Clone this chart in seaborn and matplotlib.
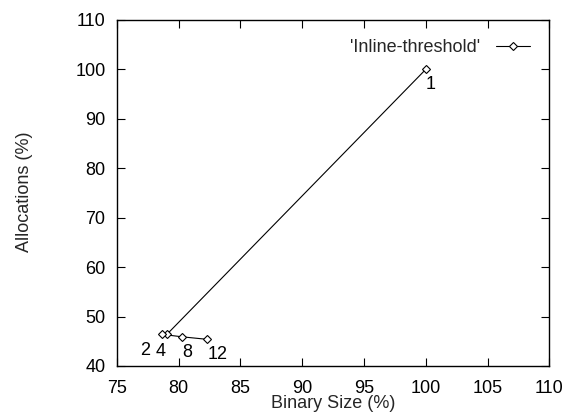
import numpy as np
import pandas as pd
import matplotlib
matplotlib.use('Agg')
import matplotlib.pyplot as plt
import seaborn as sns

# Values
threshold_labels = ['1', '2', '4', '8', '12']
binary_size = [100.0, 79.1, 78.7, 80.3, 82.3]
allocations = [100.0, 46.5, 46.4, 45.9, 45.4]
x_ticks = [75, 80, 85, 90, 95, 100, 105, 110]
y_ticks = [40, 50, 60, 70, 80, 90, 100, 110]

# label offsets (pixels) relative to each point, like gnuplot's label offsets
label_offsets = [(5, -15), (-22, -17), (-2, -17), (5, -16), (11, -15)]

FS = 13

sns.set_theme(style='ticks')
plt.rcParams['font.family'] = ['Liberation Sans', 'DejaVu Sans']
plt.rcParams['font.size'] = FS

df = pd.DataFrame({'size': binary_size, 'alloc': allocations, 'thr': threshold_labels})

fig = plt.figure(figsize=(5.75, 4.18), dpi=100)
ax = fig.add_axes([116.7 / 575, 52 / 418, 432.6 / 575, 346 / 418])

sns.lineplot(
    data=df, x='size', y='alloc', sort=False, ax=ax,
    color='black', linewidth=0.8, marker='D', markersize=4.2,
    markerfacecolor='white', markeredgecolor='black', markeredgewidth=0.8,
    label="'Inline-threshold'")

for (lbl, xv, yv), (dx, dy) in zip(zip(threshold_labels, binary_size, allocations), label_offsets):
    ax.annotate(lbl, (xv, yv), xytext=(dx, dy), textcoords='offset pixels',
                ha='center', va='center', fontsize=FS, color='black')

ax.set_xlim(75, 110)
ax.set_ylim(40, 110)
ax.set_xticks(x_ticks)
ax.set_yticks(y_ticks)
ax.tick_params(direction='in', length=6, width=0.8, top=True, right=True,
               labelsize=FS, colors='black', pad=8)
ax.tick_params(axis='x', pad=10)
for sp in ax.spines.values():
    sp.set_visible(True)
    sp.set_color('black')
    sp.set_linewidth(1.0)

ax.set_xlabel('Binary Size (%)', fontsize=FS)
ax.set_ylabel('Allocations (%)', fontsize=FS)
ax.xaxis.set_label_coords(0.5, -0.085)
ax.yaxis.set_label_coords(-0.193, 0.503)

leg = ax.legend(loc='center right', bbox_to_anchor=(0.955, 0.92), frameon=False,
                markerfirst=False, handlelength=1.9, handletextpad=0.83,
                fontsize=FS, borderaxespad=0, borderpad=0)

fig.savefig('out.png', dpi=100)
